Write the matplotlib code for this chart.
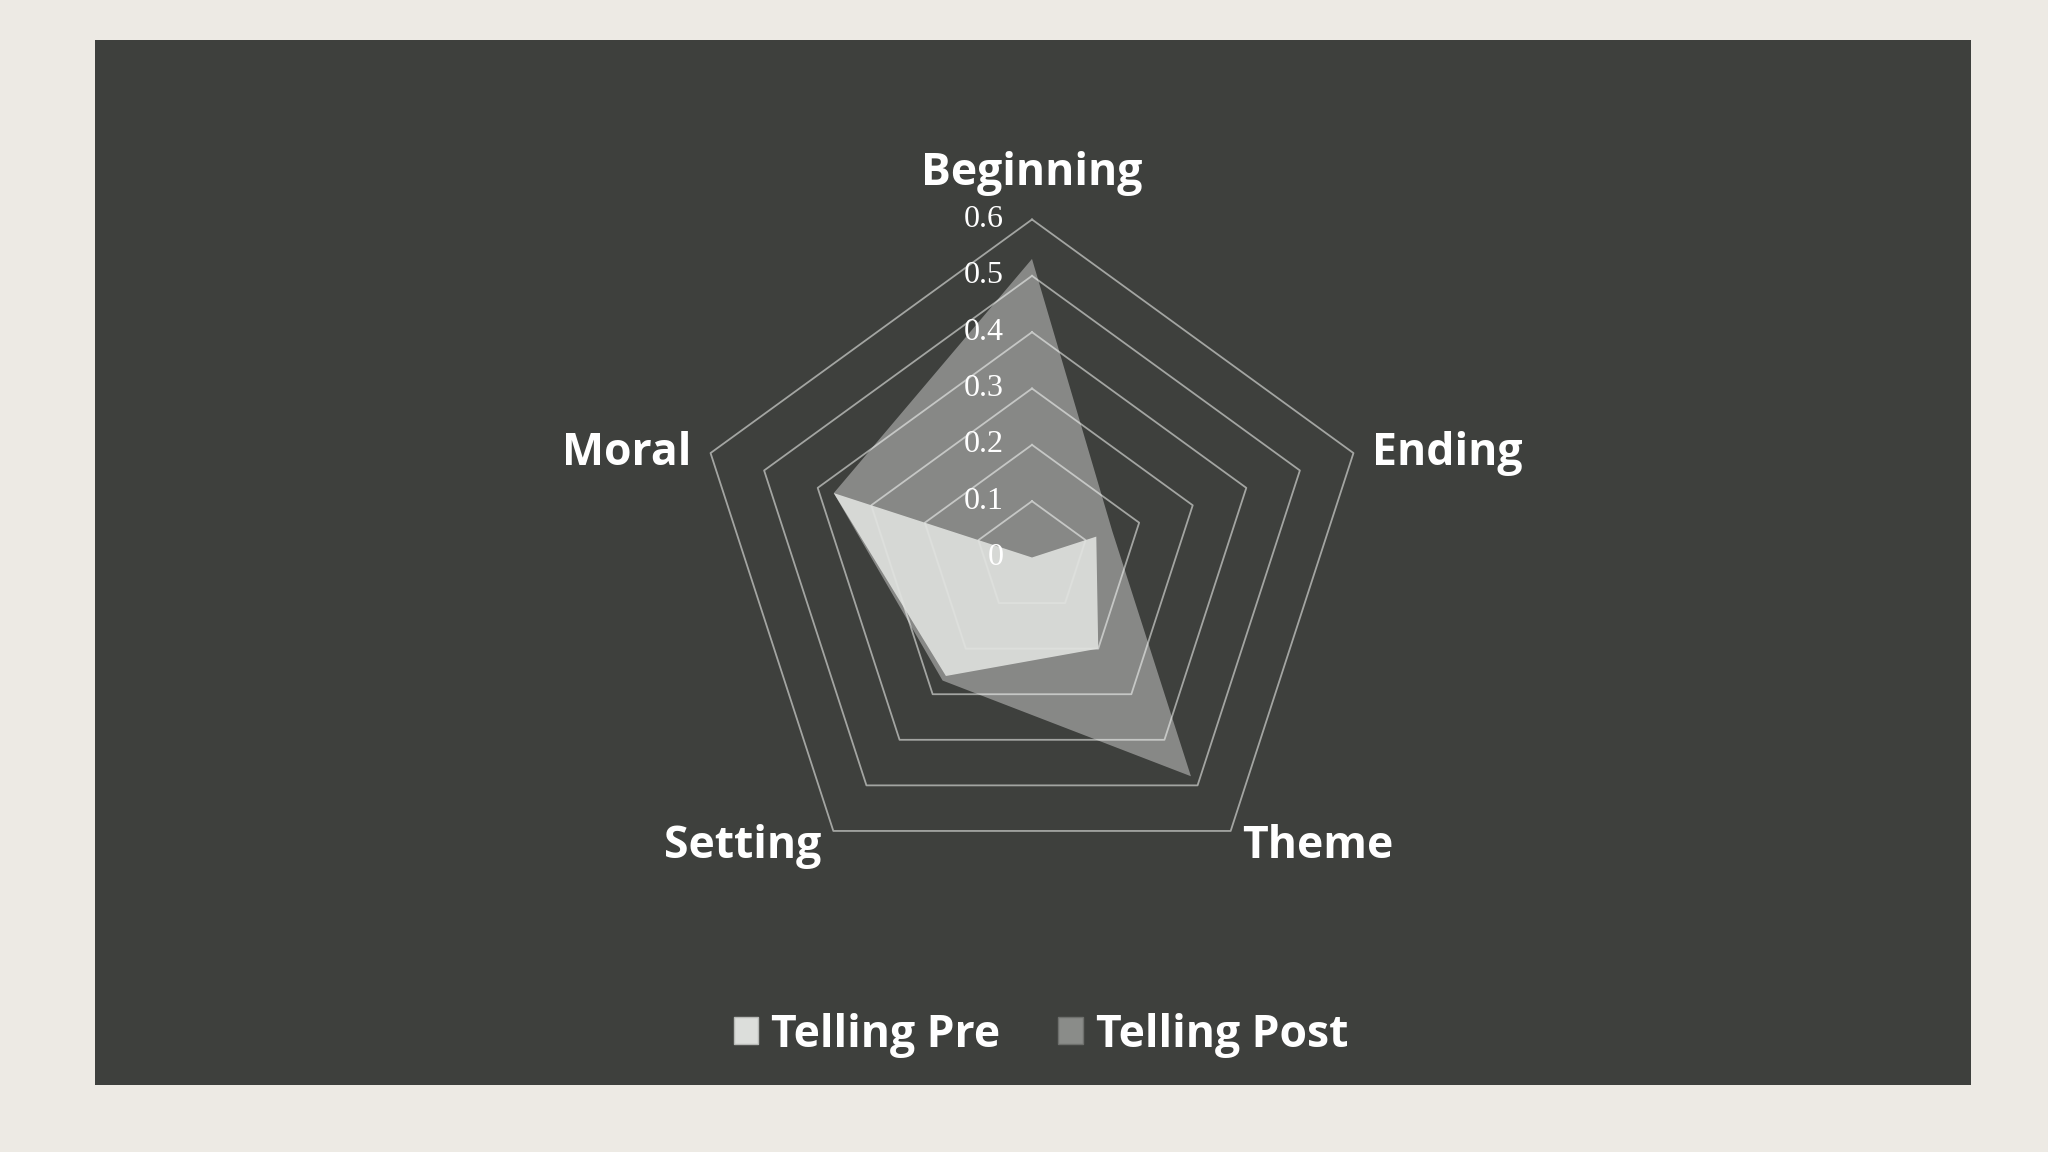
import numpy as np
import matplotlib.pyplot as plt
from matplotlib.patches import Rectangle

# data
categories = ['Beginning', 'Ending', 'Theme', 'Setting', 'Moral']
telling_pre = [0.0, 0.12, 0.20, 0.26, 0.37]
telling_post = [0.53, 0.15, 0.48, 0.27, 0.37]
ring_values = [0.1, 0.2, 0.3, 0.4, 0.5, 0.6]
tick_labels = ['0', '0.1', '0.2', '0.3', '0.4', '0.5', '0.6']

bg = '#edeae4'
panel = '#3e403d'
grid_col = '#a3a5a2'

W, H = 2048, 1152
fig = plt.figure(figsize=(W / 100, H / 100), dpi=100, facecolor=bg)

# dark panel
fig.patches.append(Rectangle((95 / W, 1 - 1085 / H), (1971 - 95) / W, (1085 - 40) / H,
                             transform=fig.transFigure, facecolor=panel, edgecolor='none', zorder=-5))

# radar axes (cartesian, equal scale) centred on the chart
cx, cy = 1032, 557.5
scale = 338 / 0.6       # pixels per unit
half = 480
ax = fig.add_axes([(cx - half) / W, 1 - (cy + half) / H, 2 * half / W, 2 * half / H], zorder=2)
ax.set_xlim(-half / scale, half / scale)
ax.set_ylim(-half / scale, half / scale)
ax.axis('off')

n = len(categories)
ang = np.deg2rad(90 - 72 * np.arange(n))


def to_xy(vals):
    v = np.asarray(vals, dtype=float)
    x = v * np.cos(ang)
    y = v * np.sin(ang)
    return np.append(x, x[0]), np.append(y, y[0])


for r in ring_values:
    gx, gy = to_xy([r] * n)
    ax.plot(gx, gy, color=grid_col, lw=1.3, zorder=1)

px, py = to_xy(telling_post)
ax.fill(px, py, color='white', alpha=0.38, lw=0, zorder=2)
qx, qy = to_xy(telling_pre)
ax.fill(qx, qy, color='#e0e2df', alpha=0.9, lw=0, zorder=3)

# radial tick labels
for i, t in enumerate(tick_labels):
    ax.text(-0.05, i * 0.1, t, ha='right', va='center', color='white',
            fontsize=23, family='Liberation Serif', zorder=4)

# category labels
lab_font = dict(color='white', fontsize=32, fontweight='bold', family='Open Sans')
lr = 0.635
ax.text(0, 0.681, categories[0], ha='center', va='center', **lab_font)
ax.text(lr * np.cos(ang[1]), lr * np.sin(ang[1]) - 0.011, categories[1], ha='left', va='center', **lab_font)
ax.text(lr * np.cos(ang[2]), lr * np.sin(ang[2]), categories[2], ha='left', va='center', **lab_font)
ax.text(lr * np.cos(ang[3]), lr * np.sin(ang[3]), categories[3], ha='right', va='center', **lab_font)
ax.text(lr * np.cos(ang[4]), lr * np.sin(ang[4]) - 0.011, categories[4], ha='right', va='center', **lab_font)

# legend
handles = [Rectangle((0, 0), 1, 1, facecolor='#dcdedb', edgecolor='#b8bab7', lw=1),
           Rectangle((0, 0), 1, 1, facecolor='#8a8c89', edgecolor='#6e706d', lw=1)]
leg = fig.legend(handles, ['Telling Pre', 'Telling Post'], loc='center',
                 bbox_to_anchor=(1041 / W, 1 - 1035 / H), ncol=2, frameon=False,
                 prop=dict(family='Open Sans', weight='bold', size=32),
                 handlelength=0.55, handleheight=0.55, handletextpad=0.3, columnspacing=1.3)
for t in leg.get_texts():
    t.set_color('white')

fig.savefig('out.png', dpi=100, facecolor=bg)
